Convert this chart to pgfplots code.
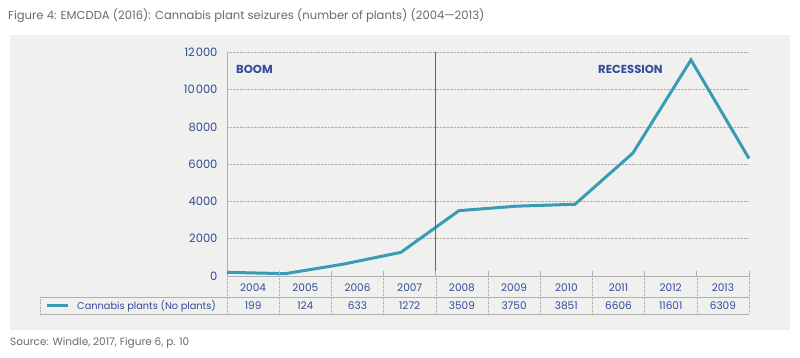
\documentclass[border=0pt]{standalone}
\usepackage{pgfplots}
\usepackage{pgfplotstable}
\pgfplotsset{compat=1.18}
\usepackage{fontspec}
\setmainfont{Poppins}
\definecolor{bg}{RGB}{240,240,239}
\definecolor{teal1}{RGB}{57,155,180}
\definecolor{navy}{RGB}{50,75,155}
\definecolor{txtgray}{RGB}{105,105,105}
\definecolor{gridc}{RGB}{175,175,175}
\pgfplotstableread{
idx year plants
0 2004 199
1 2005 124
2 2006 633
3 2007 1272
4 2008 3509
5 2009 3750
6 2010 3851
7 2011 6606
8 2012 11601
9 2013 6309
}\datatable
\begin{document}
\begin{tikzpicture}[x=1pt,y=1pt]
\fill[bg] (-217,-54) rectangle (563,241);
\begin{axis}[
  at={(0,0)}, anchor=south west,
  scale only axis, width=522pt, height=223.5pt,
  xmin=0, xmax=9, ymin=0, ymax=12000,
  axis x line*=bottom, axis y line*=left,
  axis line style={draw=gridc, line width=0.8pt, -},
  xtick=\empty,
  ytick={0,2000,4000,6000,8000,10000,12000},
  yticklabels={0,2000,4000,6000,8000,10\kern1pt000,12\kern1pt000},
  scaled y ticks=false,
  ymajorgrids, grid style={densely dotted, gridc, line width=0.5pt},
  major tick length=0pt,
  yticklabel style={navy, font=\fontsize{11.5}{13}\selectfont, xshift=-6pt},
  clip=false,
]
\addplot[teal1, line width=3pt, no markers] table[x=idx, y=plants] {\datatable};
\draw[black!60, line width=1pt] (axis cs:3.6,0) -- (axis cs:3.6,12000);
\end{axis}
% labels
\node[anchor=west, inner sep=0pt, navy, font=\bfseries\fontsize{11.6}{13}\selectfont] at (9,207) {BOOM};
\node[anchor=west, inner sep=0pt, navy, font=\bfseries\fontsize{11.6}{13}\selectfont] at (371,207) {RECESSION};
% table
\draw[gridc, line width=0.8pt] (0,-21) -- (522,-21);
\draw[gridc, line width=0.8pt] (-187,-21) -- (0,-21);
\draw[gridc, line width=0.8pt] (-187,-38) -- (522,-38);
\draw[gridc, densely dotted, line width=0.6pt] (-187,-21) -- (-187,-38);
\foreach \k in {0,...,10} {
  \draw[gridc, densely dotted, line width=0.6pt] (52.2*\k,0) -- (52.2*\k,-38);
}
\foreach \k in {1,...,10} {
  \draw[gridc, line width=0.8pt] (52.2*\k,0) -- (52.2*\k,5);
}
\foreach \i in {0,...,9} {
  \pgfplotstablegetelem{\i}{year}\of\datatable
  \edef\yr{\pgfplotsretval}
  \pgfplotstablegetelem{\i}{plants}\of\datatable
  \edef\vl{\pgfplotsretval}
  \node[navy, font=\fontsize{10.5}{12}\selectfont, inner sep=0pt] at (26.1+52.2*\i,-11.5) {\yr};
  \node[navy, font=\fontsize{10.5}{12}\selectfont, inner sep=0pt] at (26.1+52.2*\i,-30) {\vl};
}
\draw[teal1, line width=3pt] (-180,-30) -- (-159,-30);
\node[anchor=west, navy, font=\fontsize{9.8}{12}\selectfont, inner sep=0pt] at (-150,-30) {Cannabis plants (No plants)};
% title and source
\node[anchor=west, txtgray, font=\fontsize{11.6}{13}\selectfont, inner sep=0pt] at (-219,260) {Figure 4: EMCDDA (2016): Cannabis plant seizures (number of plants) (2004—2013)};
\node[anchor=west, txtgray, font=\fontsize{10.5}{12}\selectfont, inner sep=0pt] at (-217,-67) {Source: Windle, 2017, Figure 6, p. 10};
\pgfresetboundingbox
\path (-227,-82) rectangle (573,276);
\end{tikzpicture}
\end{document}
